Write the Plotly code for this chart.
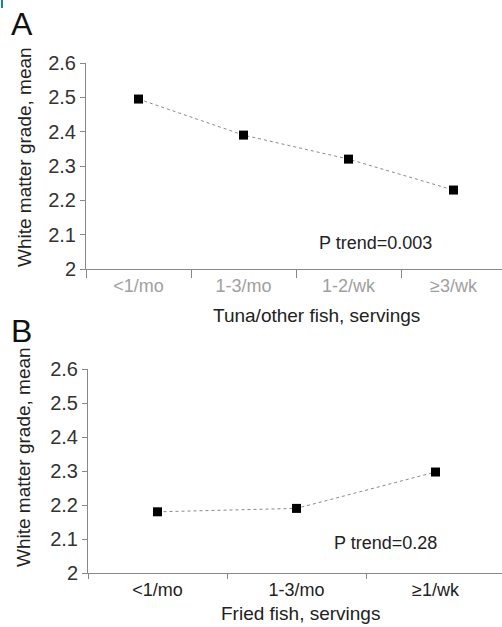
import plotly.graph_objects as go

cats_a = ["<1/mo", "1-3/mo", "1-2/wk", "≥3/wk"]
vals_a = [2.495, 2.39, 2.32, 2.23]
cats_b = ["<1/mo", "1-3/mo", "≥1/wk"]
vals_b = [2.18, 2.19, 2.297]
y_ticks = [2, 2.1, 2.2, 2.3, 2.4, 2.5, 2.6]
y_ticklabels = ["2", "2.1", "2.2", "2.3", "2.4", "2.5", "2.6"]

W, H = 502, 627
FONT = "Liberation Sans, Arial, sans-serif"

def py(px):
    return 1 - px / H

def pxx(px):
    return px / W

fig = go.Figure()
line_style = dict(color="#8a8a8a", width=1, dash="dot")
marker_style = dict(symbol="square", size=9, color="black")
fig.add_trace(go.Scatter(x=cats_a, y=vals_a, mode="lines+markers", line=line_style,
                         marker=marker_style, xaxis="x", yaxis="y", showlegend=False))
fig.add_trace(go.Scatter(x=cats_b, y=vals_b, mode="lines+markers", line=line_style,
                         marker=marker_style, xaxis="x2", yaxis="y2", showlegend=False))

axcommon = dict(showgrid=False, zeroline=False, showline=True, linecolor="#888888",
                linewidth=1, ticks="outside", tickcolor="#888888", automargin=False)

fig.update_layout(
    width=W, height=H, margin=dict(l=0, r=0, t=0, b=0, autoexpand=False),
    paper_bgcolor="white", plot_bgcolor="white",
    font=dict(family=FONT, color="#222222"),
    xaxis=dict(**axcommon, type="category", domain=[pxx(86), 1], anchor="y",
               range=[-0.5, -0.5 + 416 / 105], tickson="boundaries", ticklen=8,
               tickfont=dict(size=18, color="#a0a0a0")),
    yaxis=dict(**axcommon, domain=[py(269), py(63)], anchor="x", range=[2, 2.6],
               tickvals=y_ticks, ticktext=y_ticklabels, ticklen=5,
               tickfont=dict(size=20, color="#333333")),
    xaxis2=dict(**axcommon, type="category", domain=[pxx(88), 1], anchor="y2",
                range=[-0.5, -0.5 + 414 / 139], tickson="boundaries", ticklen=5,
                tickfont=dict(size=18, color="#222222")),
    yaxis2=dict(**axcommon, domain=[py(573), py(369)], anchor="x2", range=[2, 2.6],
                tickvals=y_ticks, ticktext=y_ticklabels, ticklen=5,
                tickfont=dict(size=20, color="#333333")),
)

ann = []
def add_text(text, x, y, size, color="#222222", angle=0):
    ann.append(dict(text=text, x=pxx(x), y=py(y), xref="paper", yref="paper",
                    showarrow=False, textangle=angle,
                    font=dict(size=size, color=color, family=FONT),
                    xanchor="center", yanchor="middle"))

add_text("A", 22, 24, 32, "#111111")
add_text("B", 21, 331, 32, "#111111")
add_text("White matter grade, mean", 24, 157, 19, "#222222", -90)
add_text("White matter grade, mean", 24, 457, 19, "#222222", -90)
add_text("P trend=0.003", 375, 243, 18)
add_text("P trend=0.28", 385, 543, 18)
add_text("Tuna/other fish, servings", 316, 315, 19)
add_text("Fried fish, servings", 300, 613, 19)
fig.update_layout(annotations=ann)
fig.add_shape(type="line", xref="paper", yref="paper", x0=pxx(2), x1=pxx(2),
              y0=py(0), y1=py(8), line=dict(color="#1a8a7a", width=2))

fig.write_html("out.html", config={"displayModeBar": False},
               post_script="document.body.style.margin='0';")
